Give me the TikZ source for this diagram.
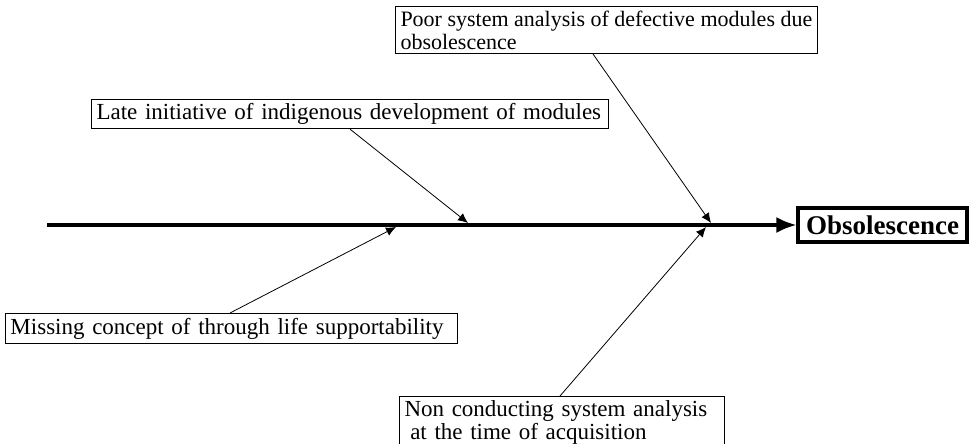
\documentclass[tikz,border=0pt]{standalone}
\usepackage{fontspec}
\setmainfont{Liberation Serif}
\usetikzlibrary{arrows.meta}

\tikzset{
  causebox/.style={draw, line width=0.5pt, inner xsep=2.5pt, inner ysep=2pt, align=left, anchor=north west, font=\fontsize{11.5}{11.5}\selectfont},
  cause/.style={-{Latex[length=5pt,width=4.5pt]}, line width=0.4pt},
  spine/.style={-{Latex[length=10pt,width=8pt]}, line width=1.5pt},
  effectbox/.style={draw, line width=1.6pt, inner sep=2pt, font=\fontsize{13.5}{13.5}\selectfont\bfseries}
}

\begin{document}
\begin{tikzpicture}[x=0.5pt,y=-0.5pt]
\useasboundingbox (0,0) rectangle (970,444);

% effect
\node[effectbox, minimum width=84.5pt, minimum height=17pt] (effect) at (882.5,225) {Obsolescence};

% causes
\node[causebox, font=\fontsize{11}{11.5}\selectfont, minimum height=23.5pt] (poor) at (395,6)
  {Poor system analysis of defective modules due\\obsolescence};
\node[causebox, text width=253.5pt, minimum height=14.5pt] (late) at (91,99)
  {Late initiative of indigenous development of modules};
\node[causebox, text width=221pt, minimum height=15pt] (miss) at (5,313)
  {Missing concept of through life supportability};
\node[causebox, text width=157.5pt, minimum height=25pt] (noncon) at (399,396)
  {Non conducting system analysis\\\hspace*{0.25em}at the time of acquisition};

% spine
\coordinate (tail) at (47,225);
\draw[spine] (tail) -- (effect.west);

% points on the spine
\coordinate (p1) at (711,223);
\coordinate (p2) at (468,223);
\coordinate (p3) at (396,227);
\coordinate (p4) at (706,227);

\draw[cause] ([xshift=99pt]poor.south west) -- (p1);
\draw[cause] ([xshift=129.5pt]late.south west) -- (p2);
\draw[cause] ([xshift=112.5pt]miss.north west) -- (p3);
\draw[cause] ([xshift=80.5pt]noncon.north west) -- (p4);
\end{tikzpicture}
\end{document}
